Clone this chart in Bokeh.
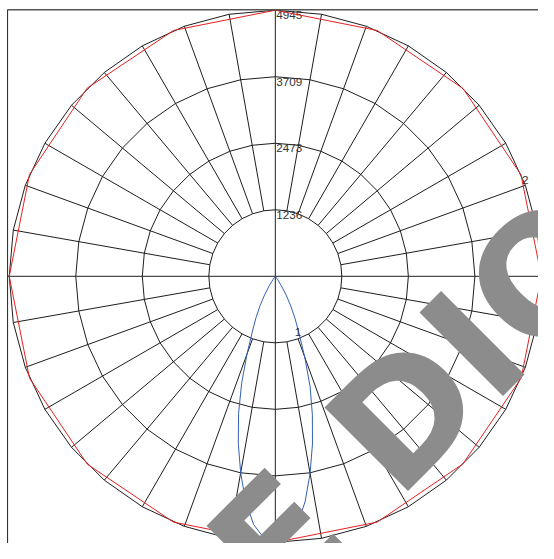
import numpy as np
from bokeh.plotting import figure
from bokeh.models import Range1d
from bokeh.core.properties import value
from bokeh.embed import file_html
from bokeh.resources import INLINE

# ---------------- data ----------------
ring_values = [1236.25, 2472.5, 3708.75, 4945.0]
ring_labels = ["1236", "2473", "3709", "4945"]
grid_step_deg = 10

# curve 1 (narrow beam), gamma measured from nadir
gamma1 = [0, 2.5, 5, 7.5, 10, 12.5, 15, 17.5, 20, 22.5, 25, 27.5, 30, 32.5, 35, 37.5, 40, 45]
c0 = [4945, 4880, 4640, 4230, 3720, 3190, 2660, 2150, 1600, 1150, 870, 620, 400, 210, 80, 20, 0, 0]
c180 = [4945, 4870, 4630, 4220, 3710, 3180, 2640, 2080, 1540, 1120, 850, 610, 400, 210, 80, 20, 0, 0]

# curve 2 (near-isotropic)
gamma2 = [0, 22.5, 45, 67.5, 90, 112.5, 135, 157.5, 180]
c90 = [4945, 4945, 4930, 4945, 4945, 4940, 4935, 4945, 4945]
c270 = [4945, 4945, 4940, 4945, 4945, 4945, 4945, 4945, 4945]

curve_labels = ["1", "2"]

# ---------------- layout ----------------
W, H = 538, 543
S = W / 554.0                       # reference image -> figure scale
R_PX = 274.0 * S
k = R_PX / ring_values[-1]          # px per unit
CX, CY = 283.0 * S, 284.0 * S       # centre in frame pixels

x0 = -CX / k
x1 = (W - CX) / k
y1 = CY / k
y0 = -(H - CY) / k


def px(xp, yp):
    return x0 + xp / k, y1 - yp / k


p = figure(width=W, height=H, x_range=Range1d(x0, x1), y_range=Range1d(y0, y1),
           output_backend="svg", toolbar_location=None, min_border=0)
p.axis.visible = False
p.grid.visible = False
p.outline_line_color = None
p.background_fill_color = "white"

lx, _ = px(7.3 * S, 0)
_, ty = px(0, 9.4 * S)

grid_col = "#1e1e1e"
ang = np.deg2rad(np.arange(0, 361, grid_step_deg))

# rings (polygons with vertices at every grid step)
for r in ring_values:
    p.line(r * np.sin(ang), r * np.cos(ang), line_color=grid_col, line_width=1)

# radial spokes from inner ring to outer ring
xs, ys = [], []
for a in np.arange(0, 360, grid_step_deg):
    if a % 90 == 0:
        continue
    t = np.deg2rad(a)
    xs.append([ring_values[0] * np.sin(t), ring_values[-1] * np.sin(t)])
    ys.append([ring_values[0] * np.cos(t), ring_values[-1] * np.cos(t)])
p.multi_line(xs, ys, line_color=grid_col, line_width=1)

# main axes
rmax = ring_values[-1]
p.segment([lx, 0], [0, -rmax], [rmax, 0], [0, rmax], line_color=grid_col, line_width=1)

fs = "11.7px"
# ring labels
p.text([0] * len(ring_values), ring_values, text=ring_labels, text_align="left",
       text_baseline="top", x_offset=1, y_offset=1, text_font=value("Liberation Sans"),
       text_font_size=fs, text_color="#333333")

# curve 1
g1 = np.deg2rad(np.array(gamma1))
x_c1 = np.concatenate([-np.array(c180[::-1]) * np.sin(g1[::-1]), np.array(c0) * np.sin(g1)])
y_c1 = np.concatenate([-np.array(c180[::-1]) * np.cos(g1[::-1]), -np.array(c0) * np.cos(g1)])
p.line(x_c1, y_c1, line_color="#3461b5", line_width=1)

# curve 2
g2 = np.deg2rad(np.array(gamma2))
x_c2 = np.concatenate([np.array(c90) * np.sin(g2), -np.array(c270[::-1]) * np.sin(g2[::-1])])
y_c2 = np.concatenate([-np.array(c90) * np.cos(g2), -np.array(c270[::-1]) * np.cos(g2[::-1])])
p.line(x_c2, y_c2, line_color="#e82020", line_width=1)

# curve labels
i1 = gamma1.index(22.5)
p.text([c0[i1] * np.sin(np.deg2rad(22.5))], [-c0[i1] * np.cos(np.deg2rad(22.5))],
       text=[curve_labels[0]], text_align="center", text_baseline="middle",
       x_offset=-1, y_offset=-1, text_font=value("Liberation Sans"),
       text_font_size=fs, text_color="#333333")
i2 = gamma2.index(112.5)
p.text([c90[i2] * np.sin(np.deg2rad(112.5))], [-c90[i2] * np.cos(np.deg2rad(112.5))],
       text=[curve_labels[1]], text_align="left", text_baseline="top",
       x_offset=1, y_offset=1, text_font=value("Liberation Sans"),
       text_font_size=fs, text_color="#333333")

# watermark
wx, wy = px(246.4 * S, 596.8 * S)
p.text([wx], [wy], text=["E DIO"], angle=np.pi / 4, text_align="left",
       text_baseline="alphabetic", text_font=value("DejaVu Sans"),
       text_font_style="bold", text_font_size="162px", text_color="#8c8c8c")

# frame border (top and left)
p.segment([lx], [ty], [x1], [ty], line_color="#555555", line_width=1.5)
p.segment([lx], [y0], [lx], [ty], line_color="#222222", line_width=1)

open("out.html", "w").write(file_html(p, INLINE))
